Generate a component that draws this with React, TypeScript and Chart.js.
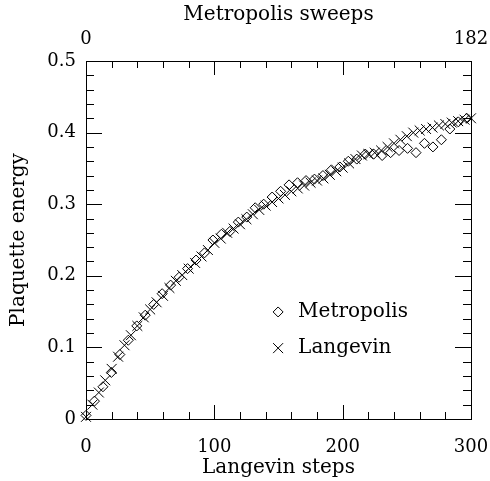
import { useEffect, useRef } from 'react';
import { Chart, registerables } from 'chart.js';

Chart.register(...registerables);

// Langevin run: x = Langevin steps
const langevinSteps = [
  0, 5, 10, 15, 20, 25, 30, 35, 40, 45, 50, 55, 60, 65, 70, 75, 80, 85, 90, 95,
  100, 105, 110, 115, 120, 125, 130, 135, 140, 145, 150, 155, 160, 165, 170, 175,
  180, 185, 190, 195, 200, 205, 210, 215, 220, 225, 230, 235, 240, 245, 250, 255,
  260, 265, 270, 275, 280, 285, 290, 295, 300,
];
const langevinEnergy = [
  0.003, 0.02, 0.037, 0.054, 0.07, 0.087, 0.103, 0.117, 0.13, 0.142, 0.153, 0.163,
  0.172, 0.183, 0.193, 0.201, 0.21, 0.218, 0.227, 0.236, 0.246, 0.252, 0.26, 0.266,
  0.272, 0.279, 0.286, 0.292, 0.298, 0.303, 0.308, 0.313, 0.318, 0.322, 0.326, 0.33,
  0.333, 0.336, 0.341, 0.346, 0.351, 0.357, 0.363, 0.368, 0.37, 0.372, 0.375, 0.38,
  0.385, 0.39, 0.395, 0.4, 0.403, 0.405, 0.407, 0.41, 0.412, 0.414, 0.416, 0.418, 0.42,
];

// Metropolis run: x = Metropolis sweeps (top axis, 0..182)
const metropolisSweeps = [
  0, 4, 8, 12, 16, 20, 24, 28, 32, 36, 40, 44, 48, 52, 56, 60, 64, 68, 72, 76, 80,
  84, 88, 92, 96, 100, 104, 108, 112, 116, 120, 124, 128, 132, 136, 140, 144, 148,
  152, 156, 160, 164, 168, 172, 176, 180,
];
const metropolisEnergy = [
  0.005, 0.025, 0.045, 0.065, 0.09, 0.11, 0.13, 0.145, 0.16, 0.175, 0.187, 0.198,
  0.21, 0.222, 0.232, 0.25, 0.258, 0.262, 0.275, 0.282, 0.295, 0.3, 0.31, 0.318,
  0.327, 0.33, 0.333, 0.335, 0.34, 0.348, 0.352, 0.36, 0.363, 0.37, 0.37, 0.368,
  0.372, 0.375, 0.378, 0.372, 0.385, 0.38, 0.39, 0.405, 0.415, 0.42,
];

const xBottomTicks = [0, 100, 200, 300];
const xTopTicks = [0, 182];
const yTicks = [0, 0.1, 0.2, 0.3, 0.4, 0.5];
const xMinorStep = 20;
const yMinorStep = 0.02;

const FONT = 'DejaVu Serif';

const framePlugin = {
  id: 'frameTicks',
  afterDraw(chart: any) {
    const { ctx, chartArea } = chart;
    const xs = chart.scales.x;
    const ys = chart.scales.y;
    const { left, right, top, bottom } = chartArea;
    ctx.save();
    ctx.strokeStyle = '#000';
    ctx.lineWidth = 1;
    ctx.strokeRect(Math.round(left) + 0.5, Math.round(top) + 0.5, Math.round(right - left), Math.round(bottom - top));
    ctx.beginPath();
    for (let i = 0; i * xMinorStep <= 300 + 1e-9; i++) {
      const v = i * xMinorStep;
      const px = Math.round(xs.getPixelForValue(v)) + 0.5;
      const len = v % 100 === 0 ? 14 : 7;
      ctx.moveTo(px, bottom);
      ctx.lineTo(px, bottom - len);
      ctx.moveTo(px, top);
      ctx.lineTo(px, top + len);
    }
    for (let i = 0; i * yMinorStep <= 0.5 + 1e-9; i++) {
      const py = Math.round(ys.getPixelForValue(i * yMinorStep)) + 0.5;
      const len = i % 5 === 0 ? 16 : 8;
      ctx.moveTo(left, py);
      ctx.lineTo(left + len, py);
      ctx.moveTo(right, py);
      ctx.lineTo(right - len, py);
    }
    ctx.stroke();

    // legend inside the plot
    const lx = left + 0.499 * (right - left);
    const ly1 = top + 0.701 * (bottom - top);
    const ly2 = top + 0.802 * (bottom - top);
    const labels = chart.data.datasets.map((d: any) => d.label);
    ctx.beginPath();
    ctx.moveTo(lx - 5, ly1);
    ctx.lineTo(lx, ly1 - 5);
    ctx.lineTo(lx + 5, ly1);
    ctx.lineTo(lx, ly1 + 5);
    ctx.closePath();
    ctx.moveTo(lx - 5, ly2 - 5);
    ctx.lineTo(lx + 5, ly2 + 5);
    ctx.moveTo(lx + 5, ly2 - 5);
    ctx.lineTo(lx - 5, ly2 + 5);
    ctx.stroke();
    ctx.fillStyle = '#000';
    ctx.font = `20px "${FONT}"`;
    ctx.textBaseline = 'middle';
    ctx.textAlign = 'left';
    ctx.fillText(labels[0], lx + 20, ly1);
    ctx.fillText(labels[1], lx + 20, ly2);
    ctx.restore();
  },
};

export default function App() {
  const ref = useRef<HTMLCanvasElement | null>(null);
  useEffect(() => {
    if (!ref.current) return;
    const chart = new Chart(ref.current, {
      type: 'scatter',
      data: {
        datasets: [
          {
            label: 'Metropolis',
            xAxisID: 'x2',
            data: metropolisSweeps.map((s, i) => ({ x: s, y: metropolisEnergy[i] })),
            pointStyle: 'rectRot',
            pointRadius: 5,
            borderColor: '#000',
            backgroundColor: 'rgba(0,0,0,0)',
            borderWidth: 1,
            clip: false,
          },
          {
            label: 'Langevin',
            xAxisID: 'x',
            data: langevinSteps.map((s, i) => ({ x: s, y: langevinEnergy[i] })),
            pointStyle: 'crossRot',
            pointRadius: 7,
            borderColor: '#000',
            backgroundColor: '#000',
            borderWidth: 1,
            clip: false,
          },
        ],
      },
      options: {
        animation: false,
        responsive: false,
        layout: { padding: { left: 0, right: 19, top: 0, bottom: 0 } },
        plugins: { legend: { display: false }, tooltip: { enabled: false } },
        scales: {
          x: {
            type: 'linear',
            position: 'bottom',
            min: 0,
            max: 300,
            afterBuildTicks: (s: any) => { s.ticks = xBottomTicks.map((v) => ({ value: v })); },
            afterFit: (s: any) => { s.height = 62; s.paddingLeft = 0; s.paddingRight = 0; },
            grid: { display: false, drawTicks: false },
            border: { display: false },
            ticks: {
              padding: 18,
              color: '#000',
              font: { family: FONT, size: 18 },
              maxRotation: 0,
              autoSkip: false,
              callback: (v: any) => String(v),
            },
            title: {
              display: true,
              text: 'Langevin steps',
              color: '#000',
              font: { family: FONT, size: 20 },
              padding: { top: 0, bottom: 1 },
            },
          },
          x2: {
            type: 'linear',
            position: 'top',
            min: 0,
            max: 182,
            afterBuildTicks: (s: any) => { s.ticks = xTopTicks.map((v) => ({ value: v })); },
            afterFit: (s: any) => { s.height = 61; s.paddingLeft = 0; s.paddingRight = 0; },
            grid: { display: false, drawTicks: false },
            border: { display: false },
            ticks: {
              padding: 11,
              color: '#000',
              font: { family: FONT, size: 18 },
              maxRotation: 0,
              autoSkip: false,
              callback: (v: any) => String(v),
            },
            title: {
              display: true,
              text: 'Metropolis sweeps',
              color: '#000',
              font: { family: FONT, size: 20 },
              padding: { top: 3, bottom: 0 },
            },
          },
          y: {
            type: 'linear',
            position: 'left',
            min: 0,
            max: 0.5,
            afterBuildTicks: (s: any) => { s.ticks = yTicks.map((v) => ({ value: v })); },
            afterFit: (s: any) => { s.width = 86; s.paddingTop = 0; s.paddingBottom = 0; },
            grid: { display: false, drawTicks: false },
            border: { display: false },
            ticks: {
              padding: 10,
              color: '#000',
              font: { family: FONT, size: 18 },
              autoSkip: false,
              callback: (v: any) => (v === 0 ? '0' : Number(v).toFixed(1)),
            },
            title: {
              display: true,
              text: 'Plaquette energy',
              color: '#000',
              font: { family: FONT, size: 20 },
              padding: { top: 7, bottom: 0 },
            },
          },
        },
      },
      plugins: [framePlugin],
    });
    return () => chart.destroy();
  }, []);
  return (
    <div style={{ position: 'absolute', left: 0, top: 0, width: 490, height: 481 }}>
      <canvas ref={ref} width={490} height={481} />
    </div>
  );
}
